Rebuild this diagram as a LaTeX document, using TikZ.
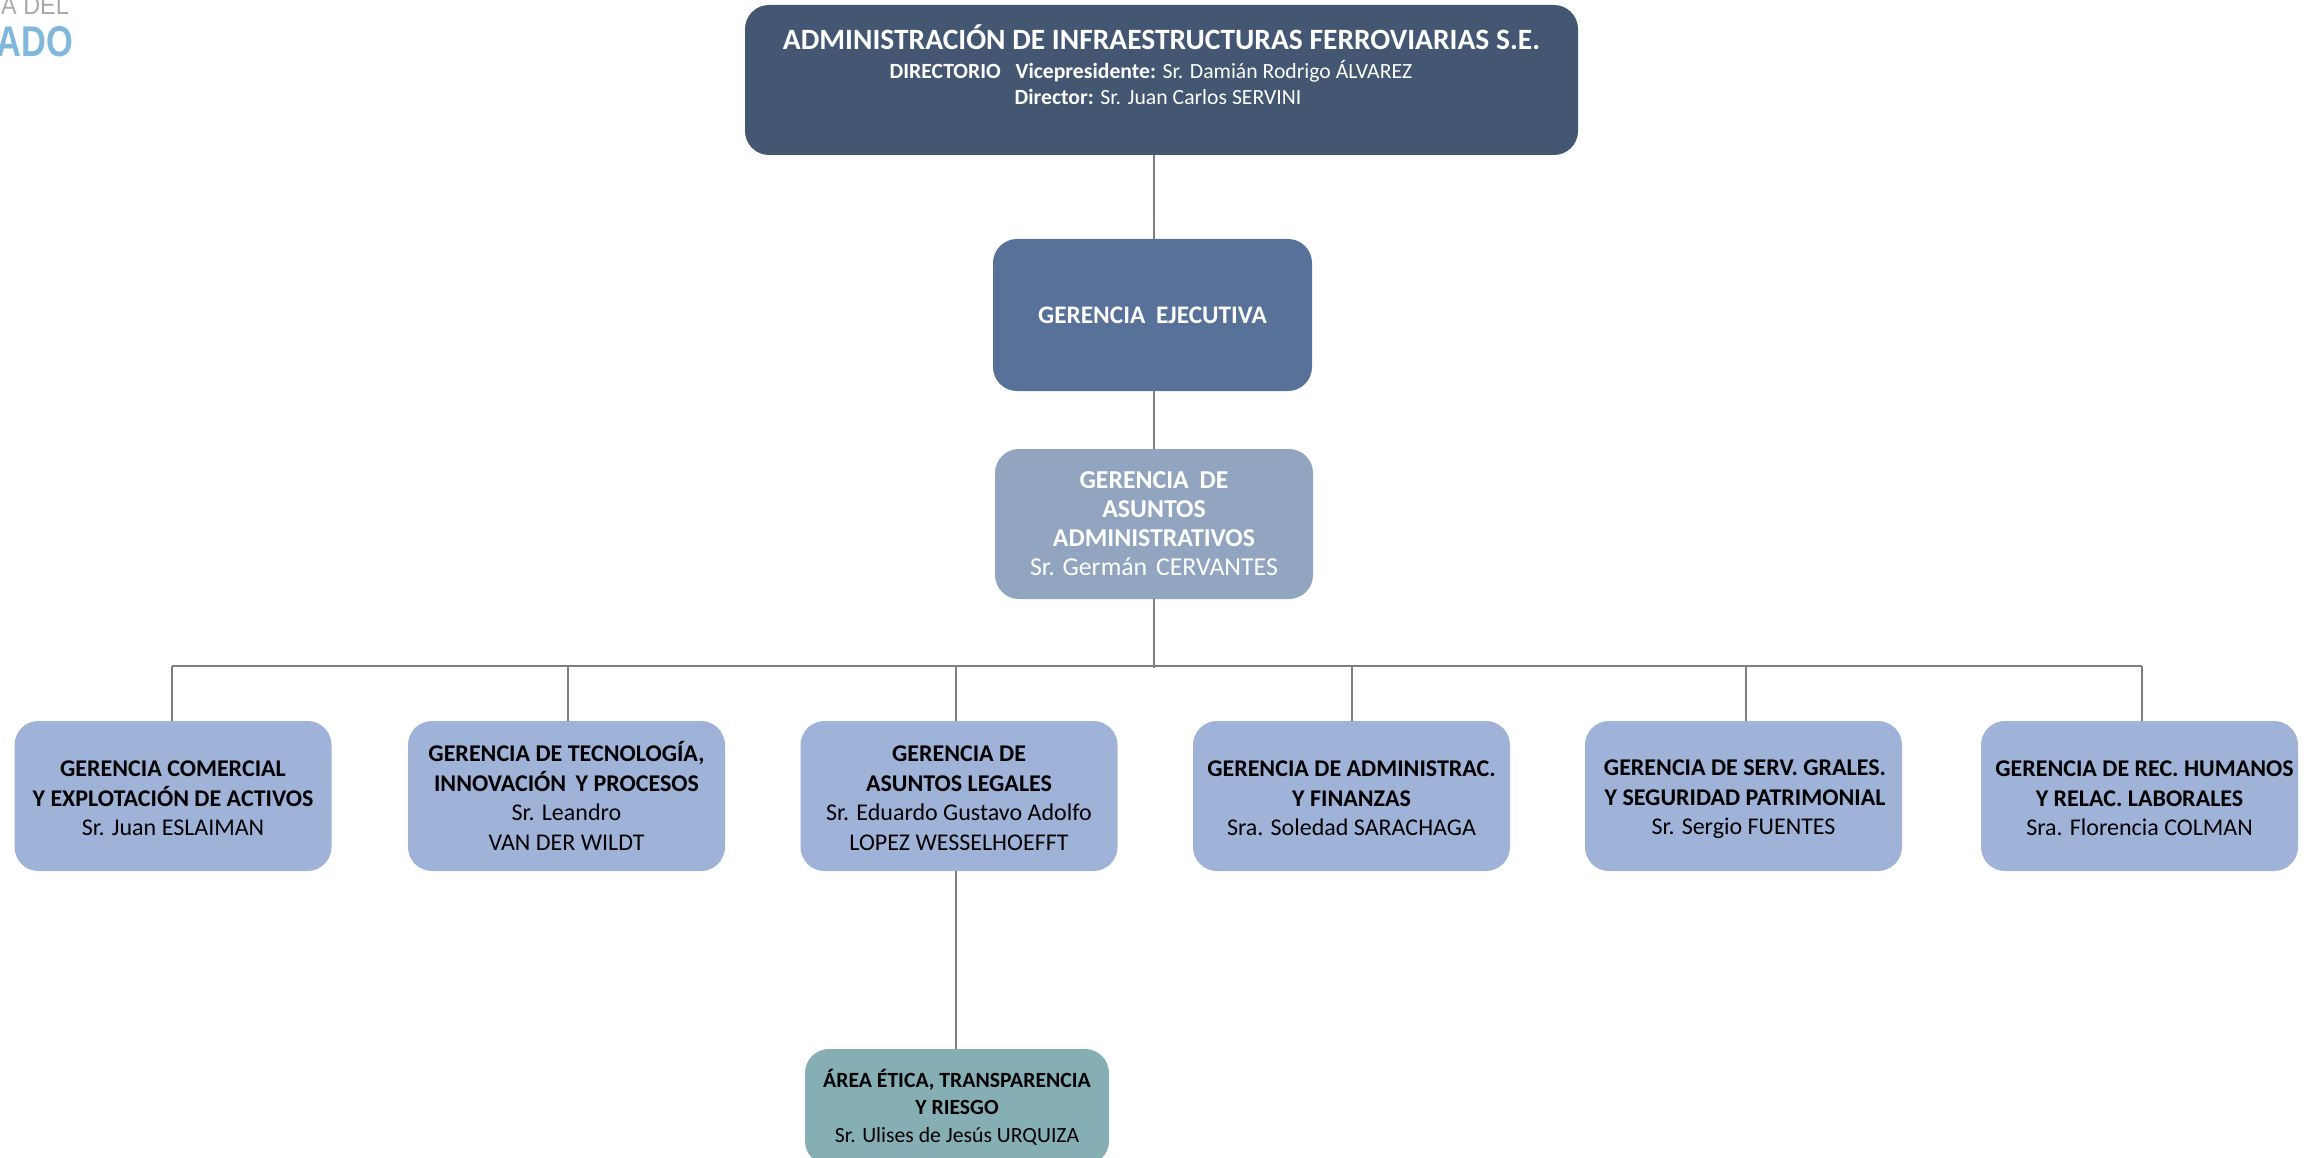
\documentclass[tikz,border=0pt]{standalone}
\usepackage{fontspec}
\usepackage{graphicx}
\setmainfont{Carlito}
\newfontfamily\logofont{Liberation Sans}
\definecolor{topc}{HTML}{435773}
\definecolor{execc}{HTML}{587198}
\definecolor{admc}{HTML}{92A5C0}
\definecolor{gerc}{HTML}{9FB2D8}
\definecolor{areac}{HTML}{86AEB5}
\definecolor{linec}{HTML}{7F7F7F}
\definecolor{logog}{HTML}{A8AAAD}
\definecolor{logob}{HTML}{7FB7DD}
\newcommand{\fs}[2]{\fontsize{#1}{#2}\selectfont}
\newcommand{\linetop}{\rule{0pt}{23pt}}
\newcommand{\linebot}{\rule[-3pt]{0pt}{3pt}}
\tikzset{
  orgbox/.style={rectangle,rounded corners=24pt,inner sep=0pt,align=center},
  gerbox/.style={orgbox,fill=gerc,text=black,minimum width=317pt,minimum height=150pt,font=\fs{24}{29.5}},
  link/.style={draw=linec,line width=1.6pt},
  buslink/.style={draw=linec,line width=2.2pt},
}
\begin{document}
\begin{tikzpicture}[x=1pt,y=-1pt]
\useasboundingbox (0,0) rectangle (2318,1158);
\clip (0,0) rectangle (2318,1158);

\node[anchor=base east,inner sep=0pt,text=logog,font=\logofont\fontsize{26}{26}\selectfont] (logoa) at (69,15) {\scalebox{0.9}[1]{A DEL}};
\node[anchor=base east,inner sep=0pt,text=logob,font=\logofont\bfseries\fontsize{43}{43}\selectfont] (logob) at (73,57) {\scalebox{0.8}[1]{ADO}};

\node[orgbox,fill=topc,text=white,minimum width=833pt,minimum height=150pt,font=\fs{21.7}{26}] (top) at (1161.5,80)
  {{\fs{29.5}{33}\textbf{ADMINISTRACIÓN DE INFRAESTRUCTURAS FERROVIARIAS S.E.}}\\[3.5pt]
   \textbf{DIRECTORIO\hspace{10pt} Vicepresidente:} Sr. Damián Rodrigo ÁLVAREZ\hspace*{21pt}\mbox{}\\
   \textbf{Director:} Sr. Juan Carlos SERVINI\hspace*{7pt}\mbox{}\\[4.5pt]\mbox{}};
\node[orgbox,fill=execc,text=white,minimum width=319pt,minimum height=152pt,font=\fs{25.3}{29}\bfseries] (exec) at (1152.5,315)
  {GERENCIA\hspace{5pt} EJECUTIVA};
\node[orgbox,fill=admc,text=white,minimum width=318pt,minimum height=150pt,font=\fs{25.8}{29}] (adm) at (1154,524)
  {\textbf{GERENCIA\hspace{5pt} DE}\\\textbf{ASUNTOS}\\\textbf{ADMINISTRATIVOS}\\Sr. Germán\hspace{3pt} CERVANTES};

\node[gerbox] (g1) at (173,796) {\linetop\textbf{GERENCIA COMERCIAL}\\\textbf{Y EXPLOTACIÓN DE ACTIVOS}\\Sr. Juan ESLAIMAN\linebot};
\node[gerbox] (g2) at (566.5,796) {\linetop\textbf{GERENCIA DE TECNOLOGÍA,}\\\textbf{INNOVACIÓN\hspace{4pt} Y PROCESOS}\\Sr. Leandro\\VAN DER WILDT\linebot};
\node[gerbox] (g3) at (959,796) {\linetop\textbf{GERENCIA DE}\\\textbf{ASUNTOS LEGALES}\\Sr. Eduardo Gustavo Adolfo\\LOPEZ WESSELHOEFFT\linebot};
\node[gerbox] (g4) at (1351.5,796) {\linetop\textbf{GERENCIA DE ADMINISTRAC.}\\\textbf{Y FINANZAS}\\Sra. Soledad SARACHAGA\linebot};
\node[gerbox] (g5) at (1743.5,796) {\linetop\hspace*{3pt}\textbf{GERENCIA DE SERV. GRALES.}\\\hspace*{3pt}\textbf{Y SEGURIDAD PATRIMONIAL}\\Sr. Sergio FUENTES\linebot};
\node[gerbox] (g6) at (2139.5,796) {\linetop\hspace*{10pt}\textbf{GERENCIA DE REC. HUMANOS}\\\textbf{Y RELAC. LABORALES}\\Sra. Florencia COLMAN\linebot};

\node[orgbox,fill=areac,text=black,minimum width=304pt,minimum height=116pt,font=\fs{21.7}{27.5}] (area) at (957,1107)
  {\textbf{ÁREA ÉTICA, TRANSPARENCIA}\\\textbf{Y RIESGO}\\Sr. Ulises de Jesús URQUIZA};

\coordinate (busL) at (172,666);
\coordinate (busR) at (2142,666);
\coordinate (busC) at (1154,668);
\coordinate (t2) at (568,666);
\coordinate (t3) at (956,666);
\coordinate (t4) at (1352,666);
\coordinate (t5) at (1746,666);

\draw[link] (top.south -| adm.north) -- (exec.north -| adm.north);
\draw[link] (exec.south -| adm.north) -- (adm.north);
\draw[link] (adm.south) -- (busC);
\draw[buslink] (busL) -- (busR);
\draw[link] (busL) -- (busL |- g1.north);
\draw[link] (t2) -- (t2 |- g2.north);
\draw[link] (t3) -- (t3 |- g3.north);
\draw[link] (t4) -- (t4 |- g4.north);
\draw[link] (t5) -- (t5 |- g5.north);
\draw[link] (busR) -- (busR |- g6.north);
\draw[link] (t3 |- g3.south) -- (t3 |- area.north);
\end{tikzpicture}
\end{document}
